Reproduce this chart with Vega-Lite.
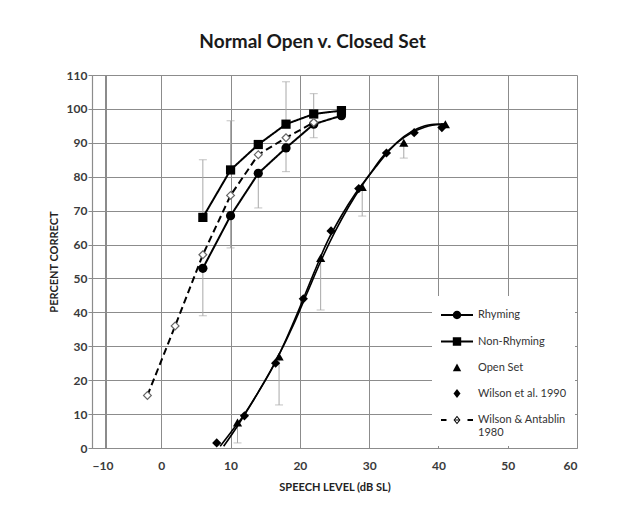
{
  "$schema": "https://vega.github.io/schema/vega-lite/v6.json",
  "width": 485,
  "height": 373,
  "autosize": "none",
  "padding": {"left": 92, "top": 75, "right": 46, "bottom": 79},
  "background": "white",
  "title": {"text": "Normal Open v. Closed Set", "font": "Lato", "fontSize": 19, "fontWeight": "bold", "color": "#1a1a1a", "anchor": "middle", "frame": "bounds", "offset": 17},
  "config": {
    "view": {"stroke": null},
    "font": "Lato",
    "axis": {
      "gridColor": "#8c8c8c", "gridWidth": 1, "gridOpacity": 1,
      "domainColor": "#8c8c8c", "domainWidth": 1.2,
      "tickColor": "#8c8c8c",
      "labelFont": "Lato", "labelFontSize": 12, "labelFontWeight": "bold", "labelColor": "#3a3a3a",
      "titleFont": "Lato", "titleFontSize": 11, "titleFontWeight": "bold", "titleColor": "#222"
    }
  },
  "datasets": {
    "pts": [
      {"s": "Rhyming", "x": 6, "y": 53}, {"s": "Rhyming", "x": 10, "y": 68.5}, {"s": "Rhyming", "x": 14, "y": 81}, {"s": "Rhyming", "x": 18, "y": 88.5}, {"s": "Rhyming", "x": 22, "y": 95.5}, {"s": "Rhyming", "x": 26, "y": 98},
      {"s": "Non-Rhyming", "x": 6, "y": 68}, {"s": "Non-Rhyming", "x": 10, "y": 82}, {"s": "Non-Rhyming", "x": 14, "y": 89.5}, {"s": "Non-Rhyming", "x": 18, "y": 95.5}, {"s": "Non-Rhyming", "x": 22, "y": 98.5}, {"s": "Non-Rhyming", "x": 26, "y": 99.5},
      {"s": "Open Set", "x": 11, "y": 7.5}, {"s": "Open Set", "x": 17, "y": 27}, {"s": "Open Set", "x": 23, "y": 56}, {"s": "Open Set", "x": 29, "y": 77}, {"s": "Open Set", "x": 35, "y": 90}, {"s": "Open Set", "x": 41, "y": 95.5},
      {"s": "Wilson et al. 1990", "x": 8, "y": 1.5}, {"s": "Wilson et al. 1990", "x": 12, "y": 9.5}, {"s": "Wilson et al. 1990", "x": 16.5, "y": 25}, {"s": "Wilson et al. 1990", "x": 20.5, "y": 44}, {"s": "Wilson et al. 1990", "x": 24.5, "y": 64}, {"s": "Wilson et al. 1990", "x": 28.5, "y": 76.5}, {"s": "Wilson et al. 1990", "x": 32.5, "y": 87}, {"s": "Wilson et al. 1990", "x": 36.5, "y": 93}, {"s": "Wilson et al. 1990", "x": 40.5, "y": 94.5},
      {"s": "Wilson & Antablin 1980", "x": -2, "y": 15.5}, {"s": "Wilson & Antablin 1980", "x": 2, "y": 36}, {"s": "Wilson & Antablin 1980", "x": 6, "y": 57}, {"s": "Wilson & Antablin 1980", "x": 10, "y": 74.5}, {"s": "Wilson & Antablin 1980", "x": 14, "y": 86.5}, {"s": "Wilson & Antablin 1980", "x": 18, "y": 91.5}, {"s": "Wilson & Antablin 1980", "x": 22, "y": 96}
    ],
    "err": [
      {"s": "Non-Rhyming", "x": 6, "y": 68, "y2": 85}, {"s": "Non-Rhyming", "x": 10, "y": 82, "y2": 96.5}, {"s": "Non-Rhyming", "x": 18, "y": 95.5, "y2": 108}, {"s": "Non-Rhyming", "x": 22, "y": 98.5, "y2": 104.5},
      {"s": "Rhyming", "x": 6, "y": 53, "y2": 39}, {"s": "Rhyming", "x": 10, "y": 68.5, "y2": 59}, {"s": "Rhyming", "x": 14, "y": 81, "y2": 70.8}, {"s": "Rhyming", "x": 18, "y": 88.5, "y2": 81.5}, {"s": "Rhyming", "x": 22, "y": 95.5, "y2": 91.5},
      {"s": "Open Set", "x": 11, "y": 7.5, "y2": 1.5}, {"s": "Open Set", "x": 17, "y": 27, "y2": 12.7}, {"s": "Open Set", "x": 23, "y": 56, "y2": 40.7}, {"s": "Open Set", "x": 29, "y": 77, "y2": 68.4}, {"s": "Open Set", "x": 35, "y": 90, "y2": 85.5}
    ],
    "fit": [
      {"s": "Wilson fit", "x": 8.5, "y": 0.5}, {"s": "Wilson fit", "x": 10, "y": 4.5}, {"s": "Wilson fit", "x": 12, "y": 10}, {"s": "Wilson fit", "x": 14, "y": 16.5}, {"s": "Wilson fit", "x": 16, "y": 23.5}, {"s": "Wilson fit", "x": 18, "y": 32}, {"s": "Wilson fit", "x": 20, "y": 41.5}, {"s": "Wilson fit", "x": 22, "y": 51.5}, {"s": "Wilson fit", "x": 24, "y": 61}, {"s": "Wilson fit", "x": 26, "y": 68.5}, {"s": "Wilson fit", "x": 28, "y": 75}, {"s": "Wilson fit", "x": 30, "y": 80.5}, {"s": "Wilson fit", "x": 32, "y": 86}, {"s": "Wilson fit", "x": 34, "y": 90}, {"s": "Wilson fit", "x": 36, "y": 92.8}, {"s": "Wilson fit", "x": 38, "y": 94.6}, {"s": "Wilson fit", "x": 40, "y": 95.4}, {"s": "Wilson fit", "x": 41, "y": 95.3},
      {"s": "Open fit", "x": 9, "y": 0.5}, {"s": "Open fit", "x": 11, "y": 6.5}, {"s": "Open fit", "x": 13, "y": 13}, {"s": "Open fit", "x": 15, "y": 20}, {"s": "Open fit", "x": 17, "y": 27.5}, {"s": "Open fit", "x": 19, "y": 36}, {"s": "Open fit", "x": 21, "y": 45.5}, {"s": "Open fit", "x": 23, "y": 55}, {"s": "Open fit", "x": 25, "y": 63.5}, {"s": "Open fit", "x": 27, "y": 71}, {"s": "Open fit", "x": 29, "y": 77.5}, {"s": "Open fit", "x": 31, "y": 83}, {"s": "Open fit", "x": 33, "y": 88}, {"s": "Open fit", "x": 35, "y": 91.8}, {"s": "Open fit", "x": 37, "y": 94.2}, {"s": "Open fit", "x": 39, "y": 95.4}, {"s": "Open fit", "x": 41, "y": 95.6}
    ]
  },
  "layer": [
    {
      "data": {"name": "err"},
      "mark": {"type": "rule", "color": "#a8a8a8", "strokeWidth": 1},
      "encoding": {
        "x": {"field": "x", "type": "quantitative", "scale": {"domain": [-10, 60], "nice": false, "zero": false},
          "axis": {"title": "SPEECH LEVEL (dB SL)", "values": [-10, 0, 10, 20, 30, 40, 50, 60], "grid": true, "ticks": false, "labelPadding": 12, "titlePadding": 10}},
        "y": {"field": "y", "type": "quantitative", "scale": {"domain": [0, 110], "nice": false},
          "axis": {"title": "PERCENT CORRECT", "values": [0, 10, 20, 30, 40, 50, 60, 70, 80, 90, 100, 110], "labelOverlap": false, "grid": true, "tickSize": 4, "labelPadding": 1, "titlePadding": 7}},
        "y2": {"field": "y2"}
      }
    },
    {
      "data": {"name": "err"},
      "mark": {"type": "rule", "color": "#8c8c8c", "strokeWidth": 1},
      "encoding": {"x": {"datum": -8, "type": "quantitative",
          "axis": {"title": "SPEECH LEVEL (dB SL)", "values": [-10, 0, 10, 20, 30, 40, 50, 60], "grid": true, "ticks": false, "labelPadding": 12, "titlePadding": 10}}}
    },
    {
      "data": {"name": "err"},
      "mark": {"type": "tick", "orient": "horizontal", "size": 8, "thickness": 1, "color": "#a8a8a8"},
      "encoding": {
        "x": {"field": "x", "type": "quantitative",
          "axis": {"title": "SPEECH LEVEL (dB SL)", "values": [-10, 0, 10, 20, 30, 40, 50, 60], "grid": true, "ticks": false, "labelPadding": 12, "titlePadding": 10}},
        "y": {"field": "y2", "type": "quantitative",
          "axis": {"title": "PERCENT CORRECT", "values": [0, 10, 20, 30, 40, 50, 60, 70, 80, 90, 100, 110], "labelOverlap": false, "grid": true, "tickSize": 4, "labelPadding": 1, "titlePadding": 7}}
      }
    },
    {
      "data": {"name": "fit"},
      "mark": {"type": "line", "color": "black", "strokeWidth": 1.6, "interpolate": "monotone"},
      "encoding": {
        "x": {"field": "x", "type": "quantitative",
          "axis": {"title": "SPEECH LEVEL (dB SL)", "values": [-10, 0, 10, 20, 30, 40, 50, 60], "grid": true, "ticks": false, "labelPadding": 12, "titlePadding": 10}},
        "y": {"field": "y", "type": "quantitative",
          "axis": {"title": "PERCENT CORRECT", "values": [0, 10, 20, 30, 40, 50, 60, 70, 80, 90, 100, 110], "labelOverlap": false, "grid": true, "tickSize": 4, "labelPadding": 1, "titlePadding": 7}},
        "detail": {"field": "s"}
      }
    },
    {
      "data": {"name": "pts"},
      "transform": [{"filter": {"field": "s", "oneOf": ["Rhyming", "Non-Rhyming", "Wilson & Antablin 1980"]}}],
      "mark": {"type": "line", "color": "black", "strokeWidth": 2},
      "encoding": {
        "x": {"field": "x", "type": "quantitative",
          "axis": {"title": "SPEECH LEVEL (dB SL)", "values": [-10, 0, 10, 20, 30, 40, 50, 60], "grid": true, "ticks": false, "labelPadding": 12, "titlePadding": 10}},
        "y": {"field": "y", "type": "quantitative",
          "axis": {"title": "PERCENT CORRECT", "values": [0, 10, 20, 30, 40, 50, 60, 70, 80, 90, 100, 110], "labelOverlap": false, "grid": true, "tickSize": 4, "labelPadding": 1, "titlePadding": 7}},
        "strokeDash": {"field": "s", "type": "nominal", "scale": {"domain": ["Rhyming", "Non-Rhyming", "Wilson & Antablin 1980"], "range": [[1, 0], [1, 0], [7, 4]]}, "legend": null}
      }
    },
    {
      "data": {"name": "pts"},
      "transform": [{"filter": {"field": "s", "oneOf": ["Rhyming", "Non-Rhyming", "Open Set", "Wilson et al. 1990"]}}],
      "mark": {"type": "point", "filled": true, "color": "black", "opacity": 1, "size": 85},
      "encoding": {
        "x": {"field": "x", "type": "quantitative",
          "axis": {"title": "SPEECH LEVEL (dB SL)", "values": [-10, 0, 10, 20, 30, 40, 50, 60], "grid": true, "ticks": false, "labelPadding": 12, "titlePadding": 10}},
        "y": {"field": "y", "type": "quantitative",
          "axis": {"title": "PERCENT CORRECT", "values": [0, 10, 20, 30, 40, 50, 60, 70, 80, 90, 100, 110], "labelOverlap": false, "grid": true, "tickSize": 4, "labelPadding": 1, "titlePadding": 7}},
        "shape": {"field": "s", "type": "nominal", "scale": {"domain": ["Rhyming", "Non-Rhyming", "Open Set", "Wilson et al. 1990"], "range": ["circle", "square", "triangle-up", "diamond"]}, "legend": null}
      }
    },
    {
      "data": {"name": "pts"},
      "transform": [{"filter": {"field": "s", "equal": "Wilson & Antablin 1980"}}],
      "mark": {"type": "point", "shape": "diamond", "filled": true, "fill": "white", "stroke": "#666", "strokeWidth": 1.2, "opacity": 1, "size": 60},
      "encoding": {
        "x": {"field": "x", "type": "quantitative",
          "axis": {"title": "SPEECH LEVEL (dB SL)", "values": [-10, 0, 10, 20, 30, 40, 50, 60], "grid": true, "ticks": false, "labelPadding": 12, "titlePadding": 10}},
        "y": {"field": "y", "type": "quantitative",
          "axis": {"title": "PERCENT CORRECT", "values": [0, 10, 20, 30, 40, 50, 60, 70, 80, 90, 100, 110], "labelOverlap": false, "grid": true, "tickSize": 4, "labelPadding": 1, "titlePadding": 7}}
      }
    },
    {
      "data": {"name": "pts"},
      "transform": [{"filter": "datum.y > 999"}],
      "mark": {"type": "point", "filled": true, "color": "black", "opacity": 1},
      "encoding": {
        "x": {"field": "x", "type": "quantitative",
          "axis": {"title": "SPEECH LEVEL (dB SL)", "values": [-10, 0, 10, 20, 30, 40, 50, 60], "grid": true, "ticks": false, "labelPadding": 12, "titlePadding": 10}},
        "y": {"field": "y", "type": "quantitative",
          "axis": {"title": "PERCENT CORRECT", "values": [0, 10, 20, 30, 40, 50, 60, 70, 80, 90, 100, 110], "labelOverlap": false, "grid": true, "tickSize": 4, "labelPadding": 1, "titlePadding": 7}},
        "shape": {"field": "s", "type": "nominal",
          "scale": {"domain": ["Rhyming", "Non-Rhyming", "Open Set", "Wilson et al. 1990", "Wilson & Antablin 1980"],
            "range": [
              "M-1.6,-0.1H1.6V0.1H-1.6ZM-0.42,0A0.42,0.42,0,1,1,0.42,0A0.42,0.42,0,1,1,-0.42,0Z",
              "M-1.6,-0.1H1.6V0.1H-1.6ZM-0.42,-0.42H0.42V0.42H-0.42Z",
              "M0,-0.45L0.42,0.32H-0.42Z",
              "M0,-0.45L0.35,0L0,0.45L-0.35,0Z",
              "M-1.6,-0.1H-1.05V0.1H-1.6ZM1.05,-0.1H1.6V0.1H1.05ZM0,-0.42L0.35,0L0,0.42L-0.35,0ZM0,-0.28L-0.22,0L0,0.28L0.22,0ZM-0.18,-0.05H0.18V0.05H-0.18Z"
            ]},
          "legend": {"title": null, "orient": "bottom-right", "offset": 2, "fillColor": "white", "padding": 8,
            "symbolSize": 400, "symbolOffset": 6, "labelOffset": 10, "rowPadding": 7.5,
            "labelFont": "Lato", "labelFontSize": 11, "labelColor": "#333", "labelLimit": 200,
            "symbolFillColor": "black", "symbolOpacity": 1,
            "labelExpr": "datum.label == 'Wilson & Antablin 1980' ? ['Wilson & Antablin', '1980'] : datum.label"}
        }
      }
    }
  ],
  "resolve": {"scale": {"shape": "independent", "strokeDash": "independent"}}
}
